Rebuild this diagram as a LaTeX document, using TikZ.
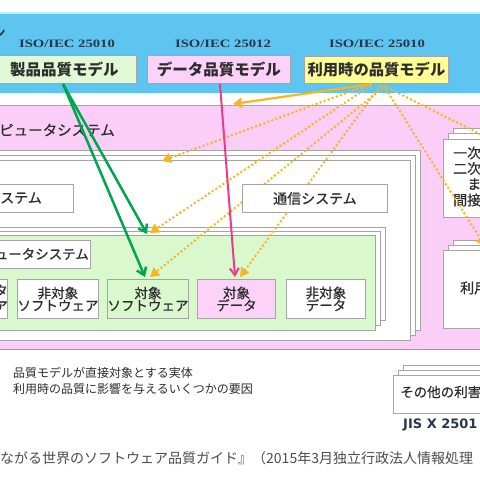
\documentclass[tikz,border=0pt]{standalone}
\usepackage{fontspec}
\setmainfont{Noto Sans CJK JP}
\newfontfamily\jpm[FakeBold=0.5]{Noto Sans CJK JP}
\newfontfamily\isofont[FakeStretch=1.3]{Liberation Serif}
\newfontfamily\jisfont{DejaVu Sans}
\usetikzlibrary{arrows.meta}
\definecolor{skyblue}{RGB}{94,196,240}
\definecolor{cyanline}{RGB}{190,240,252}
\definecolor{pinkbg}{RGB}{250,206,246}
\definecolor{pinkbox}{RGB}{252,210,248}
\definecolor{greenbg}{RGB}{218,248,206}
\definecolor{greenbox}{RGB}{226,248,214}
\definecolor{yellowbox}{RGB}{255,255,150}
\definecolor{boxgray}{RGB}{165,165,165}
\definecolor{purpleline}{RGB}{175,140,180}
\definecolor{txt}{RGB}{45,45,45}
\definecolor{slate}{RGB}{40,55,75}
\definecolor{arrgreen}{RGB}{0,165,80}
\definecolor{arrpink}{RGB}{236,58,140}
\definecolor{arrorange}{RGB}{248,182,30}
\newcommand\jfs[1]{\fontsize{#1}{#1}\selectfont}
\tikzset{
 gbox/.style={draw=boxgray, line width=0.9pt, fill=white},
 tnode/.style={inner sep=0pt, text=txt},
 tbox/.style={draw=boxgray, line width=0.9pt, inner sep=0pt, text=txt, anchor=north west, align=center},
 iso/.style={inner sep=0pt, text=slate, font=\isofont\bfseries\fontsize{11.3}{13}\selectfont},
 garrow/.style={draw=arrgreen, line width=2.5pt, -{Straight Barb[length=7pt,width=10pt]}},
 parrow/.style={draw=arrpink, line width=2pt, -{Straight Barb[length=7pt,width=9pt]}},
 oarrow/.style={draw=arrorange, line width=2.2pt, -{Triangle[length=9pt,width=10pt]}},
 odot/.style={draw=arrorange, line width=2.8pt, line cap=round, dash pattern=on 0pt off 4.3pt, -{Triangle[length=9pt,width=10pt]}},
}
\begin{document}
\begin{tikzpicture}[x=1pt,y=-1pt]
\useasboundingbox (0,0) rectangle (480,480);
\fill[white] (0,0) rectangle (480,480);
\fill[cyanline] (0,11.5) rectangle (480,14);
\fill[skyblue] (0,14) rectangle (480,93);
\node[tnode, anchor=east, font=\jpm\jfs{16}] (topcut) at (6,33) {ン};
% model boxes
\node[iso] (iso1) at (67,44) {ISO/IEC 25010};
\node[iso] (iso2) at (223,44) {ISO/IEC 25012};
\node[iso] (iso3) at (377,44) {ISO/IEC 25010};
\node[tbox, fill=greenbox, minimum width=144pt, minimum height=28pt, font=\bfseries\jfs{15.5}] (m1) at (-8,55) {製品品質モデル};
\node[tbox, fill=pinkbox, minimum width=143pt, minimum height=28pt, font=\bfseries\jfs{15.5}] (m2) at (147,55) {データ品質モデル};
\node[tbox, fill=yellowbox, minimum width=144pt, minimum height=27pt, font=\bfseries\jfs{15.3}] (m3) at (304,56) {利用時の品質モデル};
% pink area
\filldraw[fill=pinkbg, draw=boxgray, line width=0.8pt] (-5,105) rectangle (490,349);
\draw[purpleline, line width=1.6pt] (-5,349.5) -- (490,349.5);
\node[tnode, anchor=west, font=\jpm\jfs{14.5}] (cs) at (-1,130) {ピュータシステム};
% stacked system boxes
\filldraw[gbox] (-5,150) rectangle (420,330);
\filldraw[gbox] (-5,155) rectangle (415,335);
\filldraw[gbox] (-5,160) rectangle (410,340);
\node[tbox, fill=white, minimum width=78pt, minimum height=28pt] (sysbox) at (-5,184) {};
\node[tnode, anchor=west, font=\jpm\jfs{14}] (systxt) at (0,198) {ステム};
% software stacks
\filldraw[gbox] (-5,227) rectangle (385,320);
\filldraw[gbox] (-5,231) rectangle (380,325);
\filldraw[gbox, fill=greenbg] (-5,235) rectangle (375,330);
\node[tbox, fill=white, minimum width=95pt, minimum height=28pt] (swbox) at (-5,240) {};
\node[tnode, anchor=east, font=\jpm\jfs{13.5}] (swtxt) at (89,254) {ュータシステム};
\node[tbox, fill=white, minimum width=12pt, minimum height=39pt] (b0) at (-5,279) {};
\node[tnode, anchor=east, font=\jpm\jfs{13.5}] (b0a) at (8,290.5) {タ};
\node[tnode, anchor=east, font=\jpm\jfs{13.5}] (b0b) at (8,306.5) {ア};
\node[tbox, fill=white, minimum width=80pt, minimum height=39pt, font=\jpm\jfs{13.5}] (b1) at (17,279) {非対象\\[-1pt]ソフトウェア};
\node[tbox, fill=greenbg, minimum width=78pt, minimum height=39pt, font=\jpm\jfs{13.5}] (b2) at (107,279) {対象\\[-1pt]ソフトウェア};
\node[tbox, fill=pinkbox, minimum width=78pt, minimum height=39pt, font=\jpm\jfs{13.5}] (b3) at (197,279) {対象\\[-1pt]データ};
\node[tbox, fill=white, minimum width=79pt, minimum height=39pt, font=\jpm\jfs{13.5}] (b4) at (286,279) {非対象\\[-1pt]データ};
% right stacks
\filldraw[gbox] (453,128) rectangle (500,207);
\filldraw[gbox] (448,133) rectangle (500,212);
\node[tbox, fill=white, minimum width=60pt, minimum height=78pt] (r1) at (443,139) {};
\node[tnode, anchor=west, font=\jpm\jfs{14}] (r1a) at (453,153) {一次};
\node[tnode, anchor=west, font=\jpm\jfs{14}] (r1b) at (453,168.5) {二次};
\node[tnode, anchor=west, font=\jpm\jfs{14}] (r1c) at (467,184) {ま};
\node[tnode, anchor=west, font=\jpm\jfs{14}] (r1d) at (453,200) {間接};
\filldraw[gbox] (453,240) rectangle (500,318);
\filldraw[gbox] (448,245) rectangle (500,323);
\node[tbox, fill=white, minimum width=60pt, minimum height=78pt] (r2) at (443,250) {};
\node[tnode, anchor=west, font=\jpm\jfs{14}] (r2a) at (460,288) {利用};
% legend
\node[tnode, anchor=west, font=\jfs{12}] (lg1) at (13,373) {品質モデルが直接対象とする実体};
\node[tnode, anchor=west, font=\jfs{12}] (lg2) at (13,388.5) {利用時の品質に影響を与えるいくつかの要因};
% bottom right stack
\filldraw[gbox] (403,365) rectangle (500,403);
\filldraw[gbox] (398,370) rectangle (500,408);
\node[tbox, fill=white, minimum width=110pt, minimum height=38pt] (r3) at (393,375) {};
\node[tnode, anchor=west, font=\jpm\jfs{13.5}] (r3a) at (400,392) {その他の利害};
\node[inner sep=0pt, text=slate, anchor=west, font=\jisfont\bfseries\fontsize{13}{13}\selectfont] (jis) at (403,425) {JIS X 2501};
% citation
\node[inner sep=0pt, text=txt!85, anchor=west, font=\jfs{14}] (cite) at (0,458) {ながる世界のソフトウェア品質ガイド』（2015年3月独立行政法人情報処理};
% arrow coordinates
\coordinate (os0) at (372,84);
\coordinate (ot0) at (233,104);
\coordinate (osa) at (365,86);
\coordinate (ota) at (162,161);
\coordinate (osb) at (370,86);
\coordinate (otb) at (150,233);
\coordinate (osc) at (385,86);
\coordinate (otc) at (150,277);
\coordinate (osd) at (380,86);
\coordinate (otd) at (240,277);
\coordinate (ose) at (384,86);
\coordinate (ote) at (492,140);
\coordinate (otf) at (485,246);
\draw[oarrow] (os0) -- (ot0);
\draw[odot] (osa) -- (ota);
\draw[odot] (osb) -- (otb);
\draw[odot] (osc) -- (otc);
\draw[odot] (osd) -- (otd);
\draw[odot] (ose) -- (ote);
\draw[odot] (ose) -- (otf);
% comm box on top
\node[tbox, fill=white, minimum width=145pt, minimum height=28pt, font=\jpm\jfs{14}] (comm) at (242,184) {通信システム};
% green & pink
\coordinate (gs) at (63,84);
\coordinate (gt1) at (147,234);
\coordinate (gt2) at (145,277);
\coordinate (ps) at (220,84);
\coordinate (pt) at (235,277);
\draw[garrow] (gs) -- (gt1);
\draw[garrow] (gs) -- (gt2);
\draw[parrow] (ps) -- (pt);
\end{tikzpicture}
\end{document}
